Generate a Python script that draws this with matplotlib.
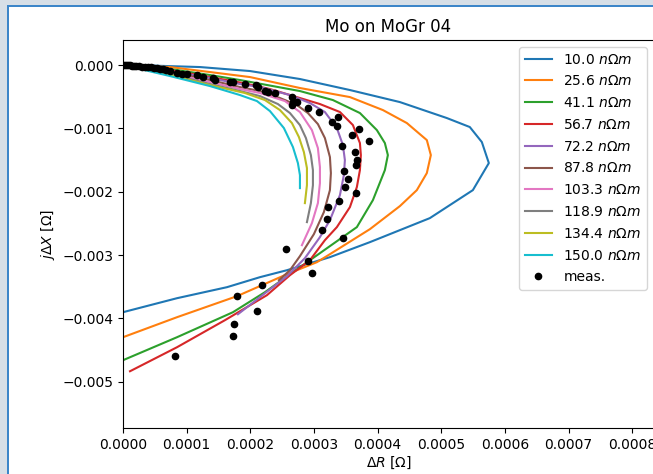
import matplotlib
matplotlib.use('Agg')
import matplotlib.pyplot as plt
from matplotlib.patches import Rectangle

# resistivity of each simulated curve [nOhm m]
rho = [10.0, 25.6, 41.1, 56.7, 72.2, 87.8, 103.3, 118.9, 134.4, 150.0]

# simulated curves, values in mOhm (dR, jdX)
dR_10 = [0, 0.0424, 0.1209, 0.1994, 0.2779, 0.3564, 0.4349, 0.5086, 0.5447, 0.5636, 0.5746,
         0.5495, 0.4819, 0.3878, 0.3250, 0.2575, 0.2151, 0.1633, 0.0848, 0]
dX_10 = [0, -0.008, -0.032, -0.095, -0.221, -0.395, -0.585, -0.837, -0.979, -1.216, -1.548,
         -1.975, -2.417, -2.796, -3.033, -3.239, -3.349, -3.507, -3.681, -3.902]

dR_25 = [0, 0.0738, 0.1366, 0.1994, 0.2779, 0.3564, 0.4082, 0.4458, 0.4772, 0.4835, 0.4772,
         0.4615, 0.4349, 0.3878, 0.3250, 0.3046, 0.2575, 0.2182, 0.1790, 0.0848, 0]
dX_25 = [0, -0.032, -0.111, -0.190, -0.363, -0.506, -0.711, -0.916, -1.185, -1.422, -1.706,
         -1.975, -2.227, -2.591, -2.986, -3.112, -3.302, -3.476, -3.649, -3.981, -4.297]

dR_41 = [0, 0.0738, 0.1366, 0.1837, 0.2779, 0.3297, 0.3721, 0.3987, 0.4113, 0.4160, 0.4113,
         0.3925, 0.3673, 0.3093, 0.2669, 0.2229, 0.1727, 0.0848, 0]
dX_41 = [0, -0.063, -0.158, -0.237, -0.411, -0.553, -0.758, -1.027, -1.232, -1.422, -1.659,
         -2.133, -2.559, -2.970, -3.270, -3.586, -3.902, -4.297, -4.660]

dR_56 = [0, 0.0738, 0.1366, 0.1884, 0.2308, 0.2779, 0.3093, 0.3407, 0.3611, 0.3721, 0.3736,
         0.3721, 0.3673, 0.3564, 0.3359, 0.3171, 0.2936, 0.2622, 0.2261, 0.1601, 0.0848, 0.0110]
dX_56 = [0, -0.079, -0.190, -0.284, -0.379, -0.521, -0.616, -0.742, -0.948, -1.232, -1.422,
         -1.659, -1.927, -2.243, -2.559, -2.765, -3.081, -3.318, -3.633, -4.028, -4.455, -4.834]

dR_72 = [0, 0.0738, 0.1366, 0.1837, 0.2151, 0.2622, 0.2936, 0.3171, 0.3359, 0.3454, 0.3485,
         0.3469, 0.3407, 0.3250, 0.3093, 0.2857, 0.2575, 0.2151, 0.1805]
dX_72 = [0, -0.095, -0.205, -0.300, -0.348, -0.474, -0.600, -0.742, -0.995, -1.264, -1.501,
         -1.738, -2.054, -2.449, -2.717, -3.049, -3.333, -3.665, -3.934]

dR_87 = [0, 0.0738, 0.1366, 0.1837, 0.2151, 0.2465, 0.2732, 0.2904, 0.3061, 0.3171, 0.3250,
         0.3265, 0.3250, 0.3155, 0.2998, 0.2779, 0.2622, 0.2449]
dX_87 = [0, -0.111, -0.237, -0.348, -0.411, -0.521, -0.632, -0.758, -0.932, -1.153, -1.453,
         -1.706, -1.975, -2.322, -2.670, -3.017, -3.239, -3.397]

dR_103 = [0, 0.0738, 0.1366, 0.1837, 0.2151, 0.2543, 0.2779, 0.2967, 0.3061, 0.3093, 0.3093,
          0.3061, 0.2967, 0.2810]
dX_103 = [0, -0.126, -0.269, -0.379, -0.442, -0.569, -0.742, -1.027, -1.311, -1.611, -1.864,
          -2.180, -2.496, -2.844]

dR_118 = [0, 0.0738, 0.1366, 0.1837, 0.2151, 0.2433, 0.2622, 0.2779, 0.2873, 0.2951, 0.2983,
          0.2983, 0.2951, 0.2889]
dX_118 = [0, -0.142, -0.300, -0.411, -0.490, -0.616, -0.758, -0.948, -1.153, -1.422, -1.659,
          -1.896, -2.180, -2.480]

dR_134 = [0, 0.0738, 0.1366, 0.1915, 0.2229, 0.2465, 0.2653, 0.2763, 0.2841, 0.2889, 0.2889, 0.2857]
dX_134 = [0, -0.158, -0.316, -0.442, -0.553, -0.711, -0.916, -1.137, -1.374, -1.627, -1.896, -2.180]

dR_150 = [0, 0.0738, 0.1366, 0.1837, 0.2104, 0.2308, 0.2527, 0.2669, 0.2747, 0.2779, 0.2779]
dX_150 = [0, -0.174, -0.332, -0.474, -0.569, -0.727, -0.995, -1.295, -1.548, -1.738, -1.943]

# measured points, mOhm
meas_dR = [0.0016, 0.0047, 0.0078, 0.0110, 0.0141, 0.0173, 0.0204, 0.0251, 0.0298, 0.0345,
           0.0392, 0.0440, 0.0487, 0.0534, 0.0581, 0.0628, 0.0675, 0.0738, 0.0848, 0.0926,
           0.1005, 0.1162, 0.1256, 0.1413, 0.1444, 0.1680, 0.1727, 0.1915, 0.2088, 0.2119,
           0.2229, 0.2276, 0.2386, 0.2648, 0.2674, 0.2732, 0.2648, 0.2912, 0.3082, 0.3276,
           0.3380, 0.3359, 0.3702, 0.3600, 0.3862, 0.3438, 0.3650, 0.3673, 0.3655, 0.3469,
           0.3537, 0.3490, 0.3658, 0.3391, 0.3221, 0.3203, 0.3119, 0.3457, 0.2559, 0.2904,
           0.2962, 0.2177, 0.1785, 0.2099, 0.1747, 0.1732, 0.0816]
meas_dX = [0, 0, 0, 0, -0.008, -0.016, -0.016, -0.016, -0.024, -0.032,
           -0.032, -0.039, -0.047, -0.047, -0.055, -0.063, -0.079, -0.087, -0.126, -0.142,
           -0.142, -0.158, -0.190, -0.205, -0.237, -0.269, -0.269, -0.300, -0.316, -0.348,
           -0.403, -0.419, -0.442, -0.501, -0.580, -0.580, -0.632, -0.684, -0.742, -0.900,
           -0.814, -0.956, -1.011, -1.098, -1.196, -1.280, -1.374, -1.493, -1.583, -1.679,
           -1.801, -1.927, -2.014, -2.141, -2.239, -2.433, -2.607, -2.733, -2.899, -3.088,
           -3.291, -3.471, -3.654, -3.882, -4.087, -4.281, -4.586]

curves = [(dR_10, dX_10), (dR_25, dX_25), (dR_41, dX_41), (dR_56, dX_56), (dR_72, dX_72),
          (dR_87, dX_87), (dR_103, dX_103), (dR_118, dX_118), (dR_134, dX_134), (dR_150, dX_150)]

fig = plt.figure(figsize=(6.53, 4.74), dpi=100)

# screenshot frame (grey margin + blue border)
fig.add_artist(Rectangle((0, 0), 7 / 653, 1, transform=fig.transFigure, color='#d7dfe7', lw=0))
fig.add_artist(Rectangle((0, 1 - 5 / 474), 1, 5 / 474, transform=fig.transFigure, color='#d7dfe7', lw=0))
fig.add_artist(Rectangle((7 / 653, 0), 2 / 653, 1 - 5 / 474, transform=fig.transFigure, color='#3d86c9', lw=0))
fig.add_artist(Rectangle((7 / 653, 1 - 7 / 474), 1, 2 / 474, transform=fig.transFigure, color='#3d86c9', lw=0))

ax = fig.add_axes([123 / 653, 46 / 474, 531 / 653, 388 / 474])

for r, (dR, dX) in zip(rho, curves):
    ax.plot([v * 1e-3 for v in dR], [v * 1e-3 for v in dX], label=f'{r:.1f} $n\\Omega m$')
ax.plot([v * 1e-3 for v in meas_dR], [v * 1e-3 for v in meas_dX], 'k.', markersize=9, label='meas.')

ax.set_xlim(0, 0.000834)
ax.set_ylim(-0.00573, 0.000395)
ax.set_title('Mo on MoGr 04')
ax.set_xlabel(r'$\Delta R$ [$\Omega$]', labelpad=2)
ax.set_ylabel(r'$j\Delta X$ [$\Omega$]')
ax.legend(loc='upper right', labelspacing=0.56)

fig.savefig('out.png', dpi=100)
